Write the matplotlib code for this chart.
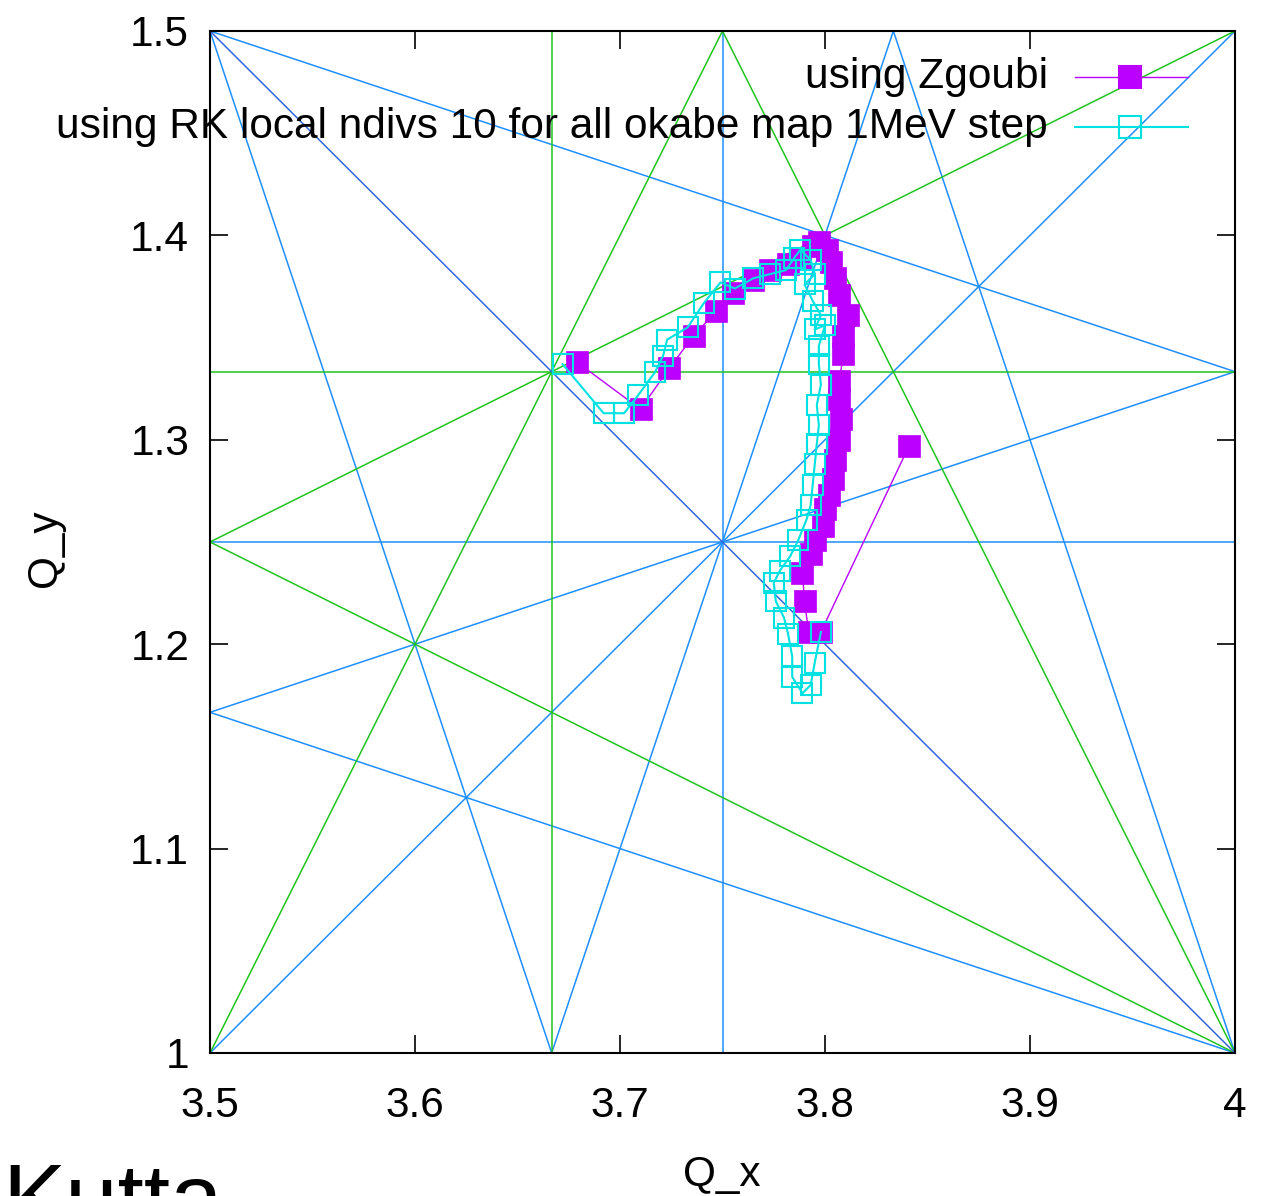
import numpy as np
import matplotlib
matplotlib.use("Agg")
import matplotlib.pyplot as plt

plt.rcParams["font.family"] = ["Liberation Sans", "DejaVu Sans"]

# tune points, Zgoubi tracking
zgoubi_qx = [3.679, 3.710, 3.724, 3.736, 3.747, 3.755, 3.765, 3.773, 3.782, 3.788,
             3.794, 3.797, 3.801, 3.803, 3.805, 3.807, 3.811, 3.809, 3.809, 3.807,
             3.807, 3.808, 3.807, 3.805, 3.804, 3.802, 3.800, 3.799, 3.795, 3.793,
             3.789, 3.790, 3.792, 3.798, 3.841]
zgoubi_qy = [1.338, 1.315, 1.335, 1.351, 1.363, 1.372, 1.378, 1.383, 1.386, 1.389,
             1.395, 1.397, 1.393, 1.387, 1.379, 1.371, 1.361, 1.351, 1.342, 1.329,
             1.320, 1.310, 1.300, 1.290, 1.281, 1.273, 1.266, 1.258, 1.251, 1.244,
             1.235, 1.221, 1.206, 1.206, 1.297]

# tune points, RK integration
rk_qx = [3.672, 3.692, 3.702, 3.709, 3.717, 3.721, 3.723, 3.733, 3.741, 3.749,
         3.756, 3.765, 3.773, 3.781, 3.785, 3.788, 3.793, 3.795, 3.790, 3.794,
         3.798, 3.795, 3.800, 3.797, 3.797, 3.798, 3.796, 3.797, 3.796, 3.795,
         3.794, 3.793, 3.791, 3.787, 3.783, 3.778, 3.775, 3.776, 3.780, 3.782,
         3.784, 3.784, 3.789, 3.793, 3.795, 3.798]
rk_qy = [1.337, 1.313, 1.313, 1.322, 1.333, 1.341, 1.349, 1.355, 1.367, 1.377,
         1.374, 1.379, 1.381, 1.383, 1.389, 1.393, 1.388, 1.381, 1.376, 1.368,
         1.361, 1.354, 1.356, 1.346, 1.337, 1.327, 1.317, 1.307, 1.298, 1.288,
         1.278, 1.268, 1.261, 1.251, 1.243, 1.236, 1.230, 1.221, 1.213, 1.205,
         1.194, 1.184, 1.176, 1.180, 1.191, 1.206]

x_ticks = [3.5, 3.6, 3.7, 3.8, 3.9, 4.0]
x_tick_labels = ["3.5", "3.6", "3.7", "3.8", "3.9", "4"]
y_ticks = [1.0, 1.1, 1.2, 1.3, 1.4, 1.5]
y_tick_labels = ["1", "1.1", "1.2", "1.3", "1.4", "1.5"]

label_zgoubi = "using Zgoubi"
label_rk = "using RK local ndivs 10 for all okabe map 1MeV step"

c_purple = "#bb00ff"
c_cyan = "#00e2e2"
order_colors = {2: "#3366dd", 3: "#1fc41f", 4: "#1e8fff"}

W, H = 1271, 1196
fig = plt.figure(figsize=(W / 100, H / 100), dpi=100)
ax = fig.add_axes([210 / W, 1 - 1053 / H, 1025 / W, 1022 / H])
xlo, xhi, ylo, yhi = 3.5, 4.0, 1.0, 1.5

# resonance lines a*Qx + b*Qy = p, orders 2..4 (lowest order wins)
seen = set()
lines = []
for order in (2, 3, 4):
    for a in range(-order, order + 1):
        b_abs = order - abs(a)
        for b in sorted({b_abs, -b_abs}):
            if a < 0 or (a == 0 and b < 0):
                continue
            g = np.gcd(abs(a), abs(b))
            corners = [a * x + b * y for x in (xlo, xhi) for y in (ylo, yhi)]
            for p in range(int(np.floor(min(corners))), int(np.ceil(max(corners))) + 1):
                key = (a // g, b // g, p / g)
                if key in seen:
                    continue
                seen.add(key)
                lines.append((order, a, b, p))

for order, a, b, p in sorted(lines, key=lambda t: -t[0]):
    col = order_colors[order]
    if b == 0:
        ax.plot([p / a, p / a], [ylo, yhi], color=col, lw=1.1, zorder=1)
    else:
        xs = np.array([xlo, xhi])
        ax.plot(xs, (p - a * xs) / b, color=col, lw=1.1, zorder=1)

ax.plot(zgoubi_qx, zgoubi_qy, color=c_purple, lw=1.0, marker="s", ms=16,
        mfc=c_purple, mec=c_purple, mew=0.5, zorder=2)
ax.plot(rk_qx, rk_qy, color=c_cyan, lw=1.5, marker="s", ms=15, mfc="none",
        mec=c_cyan, mew=1.5, zorder=3)

ax.set_xlim(xlo, xhi)
ax.set_ylim(ylo, yhi)
ax.set_xticks(x_ticks)
ax.set_xticklabels(x_tick_labels)
ax.set_yticks(y_ticks)
ax.set_yticklabels(y_tick_labels)
ax.tick_params(direction="in", length=13, width=1.2, labelsize=30.5,
               top=True, right=True, colors="black")
ax.tick_params(axis="x", pad=24)
ax.tick_params(axis="y", pad=15)
for s in ax.spines.values():
    s.set_linewidth(1.5)

# key, drawn by hand so the labels are right-aligned like gnuplot
tx, x0, x1, xm = 0.8176, 0.8439, 0.9541, 0.8976
for yk, lab, col, mfc, lw in [(0.955, label_zgoubi, c_purple, c_purple, 1.0),
                              (0.906, label_rk, c_cyan, "none", 1.5)]:
    ax.text(tx, yk, lab, transform=ax.transAxes, ha="right", va="center",
            fontsize=30.5, zorder=5)
    ax.plot([x0, x1], [yk, yk], transform=ax.transAxes, color=col, lw=lw,
            clip_on=False, zorder=5)
    ax.plot([xm], [yk], transform=ax.transAxes, marker="s", ms=15.5 if mfc == "none" else 16,
            mfc=mfc, mec=col, mew=1.5, clip_on=False, zorder=5)

fig.text(45 / W, 1 - 548 / H, "Q_y", rotation=90, ha="center", va="center", fontsize=30.5)
fig.text(722 / W, 1 - 1186 / H, "Q_x", ha="center", va="baseline", fontsize=30.5)
fig.text(2 / W, 1 - 1230 / H, "Kutta", ha="left", va="baseline", fontsize=68)

fig.savefig("out.png", dpi=100)
